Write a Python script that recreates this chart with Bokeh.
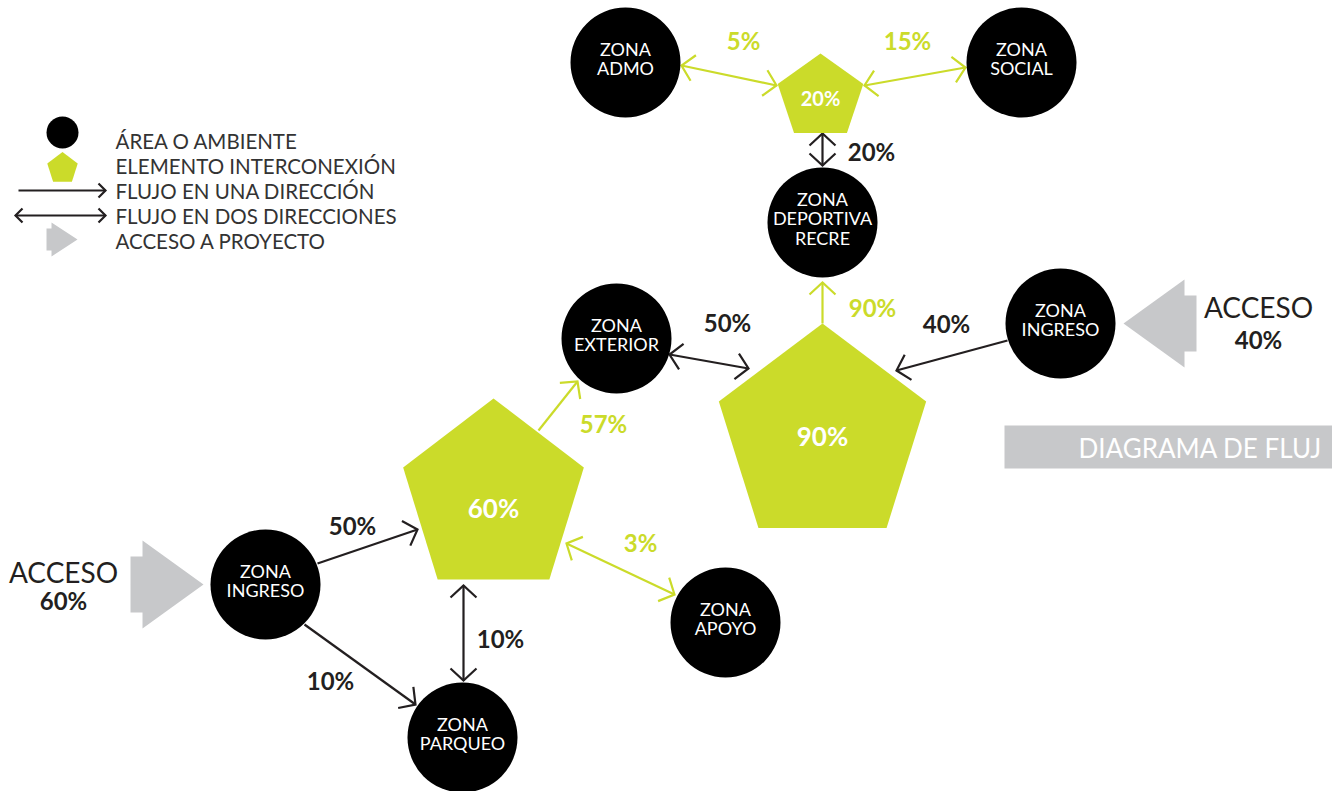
import math
from bokeh.plotting import figure
from bokeh.models import Range1d, ColumnDataSource
from bokeh.core.properties import value
from bokeh.embed import file_html
from bokeh.resources import INLINE

GREEN = "#cbdb2a"
GRAY = "#c7c8ca"
DARK = "#231f20"
FONT = value("Lato")

# ---------------- data ----------------
# areas (black circles)
area_labels = ["ZONA\nADMO", "ZONA\nSOCIAL", "ZONA\nDEPORTIVA\nRECRE", "ZONA\nINGRESO",
               "ZONA\nEXTERIOR", "ZONA\nINGRESO", "ZONA\nPARQUEO", "ZONA\nAPOYO"]
area_x = [625, 1021, 822, 1060, 616, 265, 462, 725]
area_y = [62, 62, 222, 323, 338, 584, 737, 622]

# interconnection elements (green pentagons)
hub_labels = ["20%", "60%", "90%"]
hub_x = [820, 493, 822]
hub_y = [97, 498, 436]
hub_rx = [45, 95, 109]
hub_ry = [44, 100, 113]
hub_label_y = [97, 507, 435]
hub_font = ["20px", "26px", "26px"]

# flows
flow_x0 = [317, 304, 463, 538, 566, 669, 822, 1007, 822, 776, 864]
flow_y0 = [563, 624, 585, 430, 543, 354, 323, 340, 133, 85, 85]
flow_x1 = [417, 415, 463, 577, 674, 748, 822, 896, 822, 681, 965]
flow_y1 = [529, 704, 680, 381, 594, 368, 282, 370, 165, 65, 67]
flow_both = [False, False, True, False, True, True, False, False, True, True, True]
flow_color = [DARK, DARK, DARK, GREEN, GREEN, DARK, GREEN, DARK, DARK, GREEN, GREEN]
flow_pct = ["50%", "10%", "10%", "57%", "3%", "50%", "90%", "40%", "20%", "5%", "15%"]
flow_lx = [352, 330, 500, 603, 640, 727, 872, 946, 871, 743, 907]
flow_ly = [525, 680, 638, 423, 542, 322, 307, 323, 151, 40, 40]

# project accesses (gray arrows)
acc_pct = ["60%", "40%"]
acc_tip_x = [203, 1123]
acc_tip_y = [584, 323]
acc_dir = [1, -1]
acc_text_x = [63, 1258]
acc_text_y = [571, 306]
acc_pct_y = [600, 339]

# legend
legend_text = ["ÁREA O AMBIENTE", "ELEMENTO INTERCONEXIÓN", "FLUJO EN UNA DIRECCIÓN",
               "FLUJO EN DOS DIRECCIONES", "ACCESO A PROYECTO"]
legend_y = [140, 165, 190, 215, 240]

# ---------------- helpers ----------------
def pentagon(cx, cy, rx, ry):
    xs, ys = [], []
    for k in range(5):
        t = math.radians(72 * k)
        xs.append(cx + rx * math.sin(t))
        ys.append(cy - ry * math.cos(t))
    return xs, ys


def head(x0, y0, x1, y1, L=12, W=13):
    dx, dy = x1 - x0, y1 - y0
    n = math.hypot(dx, dy)
    ux, uy = dx / n, dy / n
    bx, by = x1 - L * ux, y1 - L * uy
    px, py = -uy, ux
    return [bx + W * px, x1, bx - W * px], [by + W * py, y1, by - W * py]


def gray_arrow(tx, ty, d, tri_len, tri_half, body_len, body_half):
    bx = tx - d * tri_len
    ex = bx - d * body_len
    xs = [ex, bx, bx, tx, bx, bx, ex]
    ys = [ty - body_half, ty - body_half, ty - tri_half, ty, ty + tri_half, ty + body_half, ty + body_half]
    return xs, ys


# ---------------- figure ----------------
p = figure(width=1332, height=791, x_range=Range1d(0, 1332), y_range=Range1d(791, 0),
           output_backend="svg", toolbar_location=None, min_border=0,
           x_axis_type=None, y_axis_type=None)
p.grid.visible = False
p.outline_line_color = None
p.background_fill_color = "white"
p.border_fill_color = "white"

# title band
p.quad(left=[1004], right=[1340], top=[425], bottom=[468], fill_color=GRAY, line_color=None)
p.text(x=[1078], y=[447], text=["DIAGRAMA DE FLUJ"], text_font=FONT, text_font_size=value("26px"),
       text_color="white", text_align="left", text_baseline="middle")

# gray access arrows
ax, ay = [], []
for tx, ty, d in zip(acc_tip_x, acc_tip_y, acc_dir):
    xs, ys = gray_arrow(tx, ty, d, 61, 44, 12, 28)
    ax.append(xs); ay.append(ys)
lx, ly = gray_arrow(77, legend_y[4] - 1, 1, 26, 17, 5, 11)
ax.append(lx); ay.append(ly)
p.patches(xs=ax, ys=ay, fill_color=GRAY, line_color=None)

p.text(x=acc_text_x, y=acc_text_y, text=["ACCESO", "ACCESO"], text_font=FONT,
       text_font_size=value("28px"), text_color=DARK, text_align="center", text_baseline="middle")
p.text(x=acc_text_x, y=acc_pct_y, text=acc_pct, text_font=FONT, text_font_style="bold",
       text_font_size=value("24px"), text_color=DARK, text_align="center", text_baseline="middle")

# flows: shafts and heads
for color in (DARK, GREEN):
    idx = [i for i in range(len(flow_x0)) if flow_color[i] == color]
    p.segment(x0=[flow_x0[i] for i in idx], y0=[flow_y0[i] for i in idx],
              x1=[flow_x1[i] for i in idx], y1=[flow_y1[i] for i in idx],
              line_color=color, line_width=2.2)
    hx, hy = [], []
    for i in idx:
        xs, ys = head(flow_x0[i], flow_y0[i], flow_x1[i], flow_y1[i])
        hx.append(xs); hy.append(ys)
        if flow_both[i]:
            xs, ys = head(flow_x1[i], flow_y1[i], flow_x0[i], flow_y0[i])
            hx.append(xs); hy.append(ys)
    p.multi_line(xs=hx, ys=hy, line_color=color, line_width=2.2, line_join="miter")

# legend arrows
p.segment(x0=[18, 15], y0=[190, 215], x1=[105, 105], y1=[190, 215], line_color=DARK, line_width=2.2)
lhx, lhy = [], []
for (x0, y0, x1, y1) in [(18, 190, 105, 190), (15, 215, 105, 215), (105, 215, 15, 215)]:
    xs, ys = head(x0, y0, x1, y1, L=7, W=7)
    lhx.append(xs); lhy.append(ys)
p.multi_line(xs=lhx, ys=lhy, line_color=DARK, line_width=2.2, line_join="miter")

# areas
p.circle(x=area_x, y=area_y, radius=55, fill_color="black", line_color=None)
p.text(x=area_x, y=[y - 4 for y in area_y], text=area_labels, text_font=FONT,
       text_font_size=value("18px"), text_line_height=0.88, text_color="white",
       text_align="center", text_baseline="middle")

# hubs
px_, py_ = [], []
for cx, cy, rx, ry in zip(hub_x, hub_y, hub_rx, hub_ry):
    xs, ys = pentagon(cx, cy, rx, ry)
    px_.append(xs); py_.append(ys)
lpx, lpy = pentagon(62, 168, 16, 16.5)
px_.append(lpx); py_.append(lpy)
p.patches(xs=px_, ys=py_, fill_color=GREEN, line_color=None)
hub_src = ColumnDataSource(dict(x=hub_x, y=hub_label_y, text=hub_labels, size=hub_font))
p.text(x="x", y="y", text="text", text_font_size="size", source=hub_src, text_font=FONT,
       text_font_style="bold", text_color="white", text_align="center", text_baseline="middle")

# flow labels
lab_src = ColumnDataSource(dict(x=flow_lx, y=flow_ly, text=flow_pct, color=flow_color))
p.text(x="x", y="y", text="text", text_color="color", source=lab_src, text_font=FONT,
       text_font_style="bold", text_font_size=value("24px"), text_align="center",
       text_baseline="middle")

# legend
p.circle(x=[62], y=[132], radius=16, fill_color="black", line_color=None)
p.text(x=[115] * len(legend_text), y=legend_y, text=legend_text, text_font=FONT,
       text_font_size=value("20.5px"), text_color="#333333", text_align="left",
       text_baseline="middle")

open("out.html", "w").write(file_html(p, INLINE))
